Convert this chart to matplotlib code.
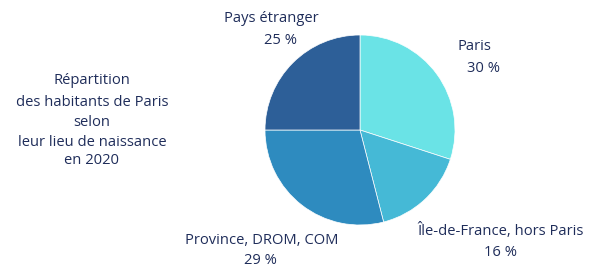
import matplotlib
matplotlib.use("Agg")
import matplotlib.pyplot as plt

categories = ["Paris", "Île-de-France, hors Paris", "Province, DROM, COM", "Pays étranger"]
values = [30, 16, 29, 25]
colors = ["#6ae3e6", "#45b9d6", "#2e8bbf", "#2d5f98"]
title_lines = ["Répartition", "des habitants de Paris", "selon", "leur lieu de naissance", "en 2020"]

plt.rcParams['font.family'] = ['Open Sans', 'DejaVu Sans']
TXT = "#1f2d5a"
W, H = 600, 272
fig = plt.figure(figsize=(W/100, H/100), dpi=100)
fig.patch.set_facecolor("white")

cx, cy, r = 360, 130, 95
ax = fig.add_axes([(cx - r)/W, (H - cy - r)/H, 2*r/W, 2*r/H])
ax.pie(values, colors=colors, startangle=90, counterclock=False, radius=1,
       wedgeprops=dict(edgecolor="white", linewidth=0.5))
ax.set_xlim(-1, 1); ax.set_ylim(-1, 1)
ax.set_aspect("auto")
ax.axis("off")

def ftext(x, y, s, **kw):
    fig.text(x/W, 1 - y/H, s, ha="center", va="center", color=TXT, fontsize=10.6, **kw)

label_pos = {
    "Paris": [(474, 46), (483, 68)],
    "Île-de-France, hors Paris": [(500, 231), (500, 252)],
    "Province, DROM, COM": [(262, 241), (260, 260)],
    "Pays étranger": [(271, 18), (281, 40)],
}
for cat, v in zip(categories, values):
    (x1, y1), (x2, y2) = label_pos[cat]
    ftext(x1, y1, cat)
    ftext(x2, y2, f"{v} %")

ys = [81, 102, 122, 142, 161]
for line, y in zip(title_lines, ys):
    ftext(92, y, line)

fig.savefig("out.png", dpi=100, facecolor="white")
